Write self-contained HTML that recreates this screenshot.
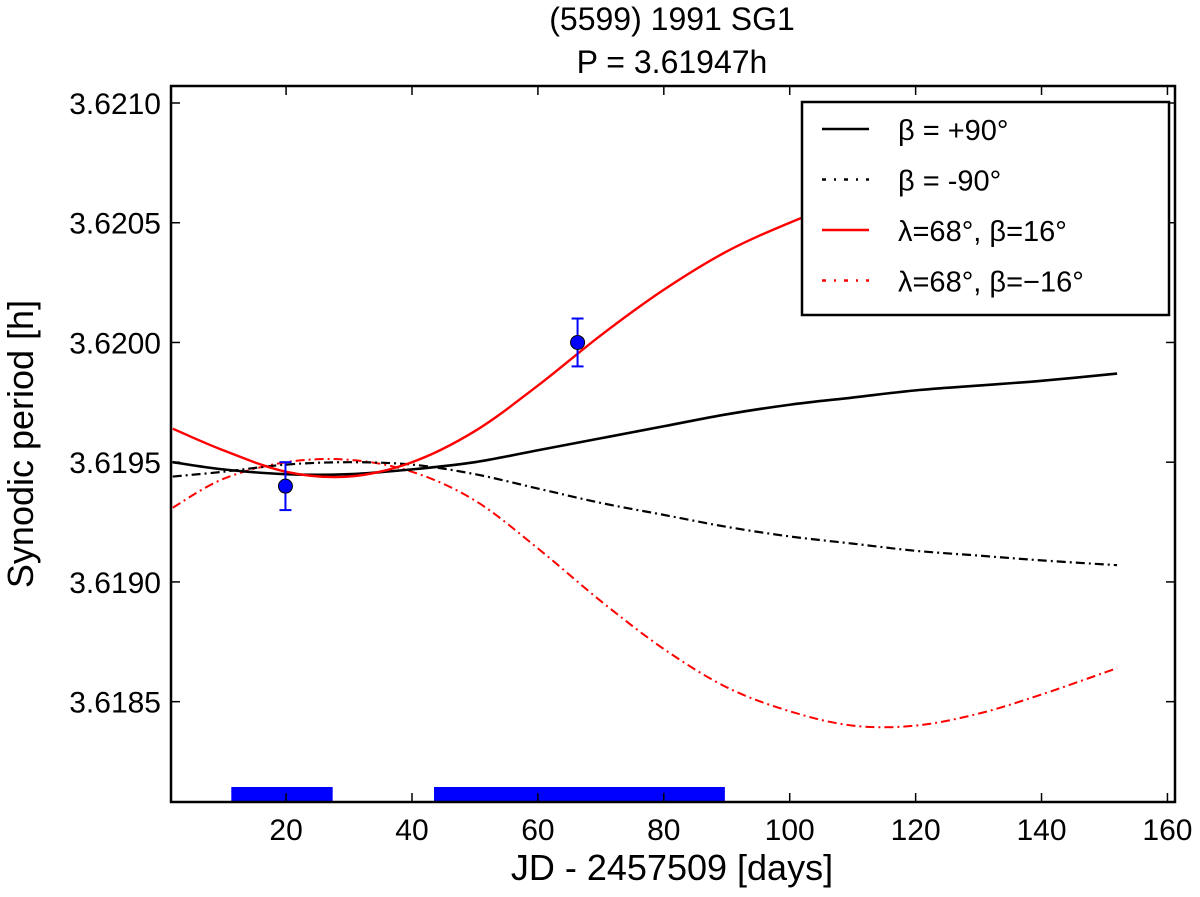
<!DOCTYPE html>
<html><head><meta charset="utf-8"><style>
body{margin:0;background:#fff}
svg text{font-family:"Liberation Sans","DejaVu Sans",sans-serif}
</style></head><body>
<svg id="chart" width="1200" height="892" viewBox="0 0 1200 892" xmlns="http://www.w3.org/2000/svg">
<rect width="1200" height="892" fill="#fff"/>
<text x="672" y="30" font-size="32" text-anchor="middle">(5599) 1991 SG1</text>
<text x="672" y="73" font-size="32" text-anchor="middle">P = 3.61947h</text>
<g id="plot"></g>
<text x="672" y="880" font-size="36" text-anchor="middle">JD - 2457509 [days]</text>
<text transform="translate(33,444) rotate(-90)" font-size="36" text-anchor="middle">Synodic period [h]</text>
</svg>
<script>
const days=[2,10,20,30,40,50,60,70,80,90,100,110,120,130,140,152];
const polePlus=[3.61950,3.61947,3.61945,3.61945,3.61947,3.61950,3.61955,3.61960,3.61965,3.61970,3.61974,3.61977,3.61980,3.61982,3.61984,3.61987];
const poleMinus=[3.61944,3.61946,3.61949,3.61950,3.61949,3.61945,3.61939,3.61933,3.61928,3.61923,3.61919,3.61916,3.61913,3.61911,3.61909,3.61907];
const redPlus=[3.61964,3.61955,3.61946,3.61944,3.61950,3.61963,3.61982,3.62003,3.62022,3.62038,3.62050,3.62060,3.62068,3.62073,3.62076,3.62078];
const redMinus=[3.61931,3.61943,3.61950,3.61951,3.61946,3.61934,3.61914,3.61892,3.61872,3.61856,3.61846,3.61840,3.61840,3.61845,3.61853,3.61864];
const obsDays=[19.9,66.3];
const obsPeriod=[3.61940,3.62000];
const obsErr=[0.00010,0.00010];
const coverStart=[11.3,43.5];
const coverEnd=[27.4,89.7];
const xTicks=[20,40,60,80,100,120,140,160];
const yTicks=[3.6185,3.6190,3.6195,3.6200,3.6205,3.6210];
const yTickLabels=["3.6185","3.6190","3.6195","3.6200","3.6205","3.6210"];

const L=171,R=1175,T=86,B=802;
const xMin=1.72,xMax=161.2,yMin=3.618081,yMax=3.621071;
const X=d=>L+(d-xMin)/(xMax-xMin)*(R-L);
const Y=v=>B-(v-yMin)/(yMax-yMin)*(B-T);
const NS="http://www.w3.org/2000/svg";
const g=document.getElementById('plot');
function mk(tag,attrs,parent){const e=document.createElementNS(NS,tag);for(const k in attrs)e.setAttribute(k,attrs[k]);(parent||g).appendChild(e);return e;}

function smoothPath(xs,ys){
  const P=xs.map((d,i)=>[X(d),Y(ys[i])]);
  let s="M"+P[0][0]+","+P[0][1];
  for(let i=0;i<P.length-1;i++){
    const p0=P[i-1]||P[i],p1=P[i],p2=P[i+1],p3=P[i+2]||P[i+1];
    const c1=[p1[0]+(p2[0]-p0[0])/6,p1[1]+(p2[1]-p0[1])/6];
    const c2=[p2[0]-(p3[0]-p1[0])/6,p2[1]-(p3[1]-p1[1])/6];
    s+=" C"+c1+" "+c2+" "+p2;
  }
  return s;
}
const defs=mk('defs',{});
const cp=mk('clipPath',{id:'clip'},defs);mk('rect',{x:L,y:T,width:R-L,height:B-T},cp);
const cg=mk('g',{'clip-path':'url(#clip)'});

let e;
e=mk('path',{d:smoothPath(days,redMinus),fill:'none',stroke:'#f00','stroke-width':2,'stroke-dasharray':'9,4,2,4'},cg);


e=mk('path',{d:smoothPath(days,poleMinus),fill:'none',stroke:'#000','stroke-width':2.2,'stroke-dasharray':'9,4,2,4'},cg);


e=mk('path',{d:smoothPath(days,polePlus),fill:'none',stroke:'#000','stroke-width':2.6},cg);


e=mk('path',{d:smoothPath(days,redPlus),fill:'none',stroke:'#f00','stroke-width':2.4},cg);



for(let i=0;i<coverStart.length;i++){
  e=mk('rect',{x:X(coverStart[i]),y:787,width:X(coverEnd[i])-X(coverStart[i]),height:14,fill:'#0000ff'},cg);
  
  
}
for(let i=0;i<obsDays.length;i++){
  const x=X(obsDays[i]),y1=Y(obsPeriod[i]+obsErr[i]),y2=Y(obsPeriod[i]-obsErr[i]);
  const eg=mk('g',{},cg);
  
  
  mk('line',{x1:x,x2:x,y1:y1,y2:y2,stroke:'#0000ff','stroke-width':2},eg);
  mk('line',{x1:x-6,x2:x+6,y1:y1,y2:y1,stroke:'#0000ff','stroke-width':2},eg);
  mk('line',{x1:x-6,x2:x+6,y1:y2,y2:y2,stroke:'#0000ff','stroke-width':2},eg);
  mk('circle',{cx:x,cy:Y(obsPeriod[i]),r:7,fill:'#0000ff',stroke:'#000','stroke-width':1},eg);
}

e=mk('rect',{x:L,y:T,width:R-L,height:B-T,fill:'none',stroke:'#000','stroke-width':2.5});


xTicks.forEach(t=>{
  const x=X(t);
  mk('line',{x1:x,x2:x,y1:B,y2:B-9,stroke:'#000','stroke-width':1.5});
  mk('line',{x1:x,x2:x,y1:T,y2:T+9,stroke:'#000','stroke-width':1.5});
  e=mk('text',{x:x,y:B+38,'font-size':30,'text-anchor':'middle'});e.textContent=t;
  
  
});
yTicks.forEach((t,i)=>{
  const y=Y(t);
  mk('line',{x1:L,x2:L+9,y1:y,y2:y,stroke:'#000','stroke-width':1.5});
  mk('line',{x1:R,x2:R-9,y1:y,y2:y,stroke:'#000','stroke-width':1.5});
  e=mk('text',{x:161,y:y+11,'font-size':30,'text-anchor':'end'});e.textContent=yTickLabels[i];
  
  
});

const lg=mk('g',{});


mk('rect',{x:802,y:102,width:367,height:213,fill:'#fff',stroke:'#000','stroke-width':2.5},lg);
const entries=[
 ['#000',null,'β = +90°'],['#000','4,8,2,8','β = -90°'],
 ['#f00',null,'λ=68°, β=16°'],['#f00','4,8,2,8','λ=68°, β=−16°']];
entries.forEach((en,i)=>{
  const y=129+i*50.5;
  const eg=mk('g',{},lg);
  
  
  const a={x1:822,x2:869,y1:y,y2:y,stroke:en[0],'stroke-width':2.4};
  if(en[1])a['stroke-dasharray']=en[1];
  mk('line',a,eg);
  const t=mk('text',{x:898,y:y+11,'font-size':29},eg);t.textContent=en[2];
});
</script>
</body></html>
